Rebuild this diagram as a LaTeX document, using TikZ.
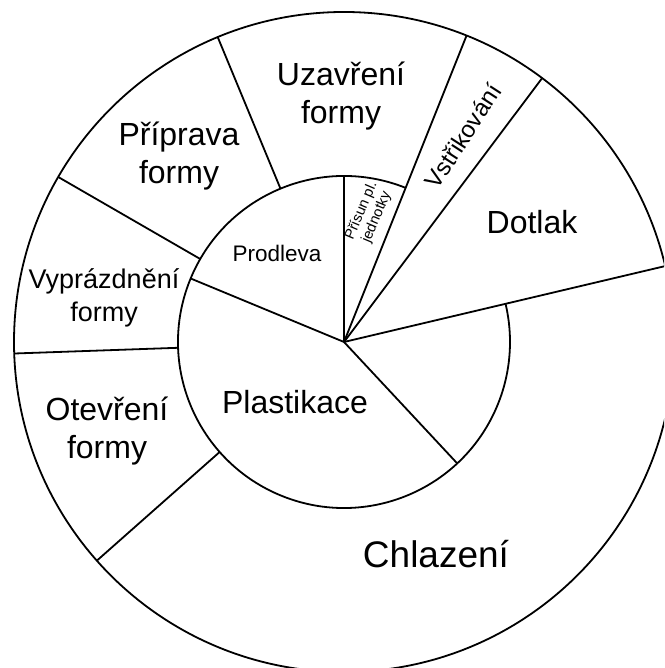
\documentclass[tikz,border=0pt]{standalone}
\usepackage{fontspec}
\setmainfont{Liberation Sans}
\begin{document}
\begin{tikzpicture}[x=1pt,y=1pt,
  seg/.style={line width=1.8pt, black},
  lbl/.style={align=center, inner sep=0pt, font=\fontsize{32}{38}\selectfont}]
\useasboundingbox (0,0) rectangle (664,668);
\clip (0,0) rectangle (664,668);
\coordinate (C) at (344,326);
% outer circle
\draw[seg] (C) circle[radius=330];
% inner circle (broken where Dotlak and Vstrikovani run through)
\draw[seg] ([shift={(68.2:166)}]C) arc[start angle=68.2, end angle=373.3, radius=166];
% full radial lines from centre
\draw[seg] (C) -- ([shift={(13.3:330)}]C);
\draw[seg] (C) -- ([shift={(53.1:330)}]C);
\draw[seg] (C) -- ([shift={(68.2:330)}]C);
% inner radial lines
\draw[seg] (C) -- ([shift={(90:166)}]C);
\draw[seg] (C) -- ([shift={(157.5:166)}]C);
\draw[seg] (C) -- ([shift={(-47:166)}]C);
% outer ring dividers
\foreach \a in {112.5,150,182,221.5}
  \draw[seg] ([shift={(\a:166)}]C) -- ([shift={(\a:330)}]C);
% labels
\node[lbl] (uz) at (341,572) {Uzavření\\formy};
\node[lbl] (pr) at (179,512) {Příprava\\formy};
\node[lbl, font=\fontsize{27}{33}\selectfont] (vy) at (104,370) {Vyprázdnění\\formy};
\node[lbl] (ot) at (107,237) {Otevření\\formy};
\node[lbl] (do) at (532,446) {Dotlak};
\node[lbl, font=\fontsize{37}{40}\selectfont] (ch) at (436,114) {Chlazení};
\node[lbl, font=\fontsize{32}{36}\selectfont] (pl) at (295,266) {Plastikace};
\node[lbl, font=\fontsize{22.5}{26}\selectfont] (pd) at (277,415) {Prodleva};
\node[lbl, font=\fontsize{24}{26}\selectfont, rotate=57] (vs) at (463,532) {Vstřikování};
\node[lbl, font=\fontsize{14.5}{16.5}\selectfont, rotate=67] (ps) at (369,454) {Přísun pl.\\jednotky};
\end{tikzpicture}
\end{document}
